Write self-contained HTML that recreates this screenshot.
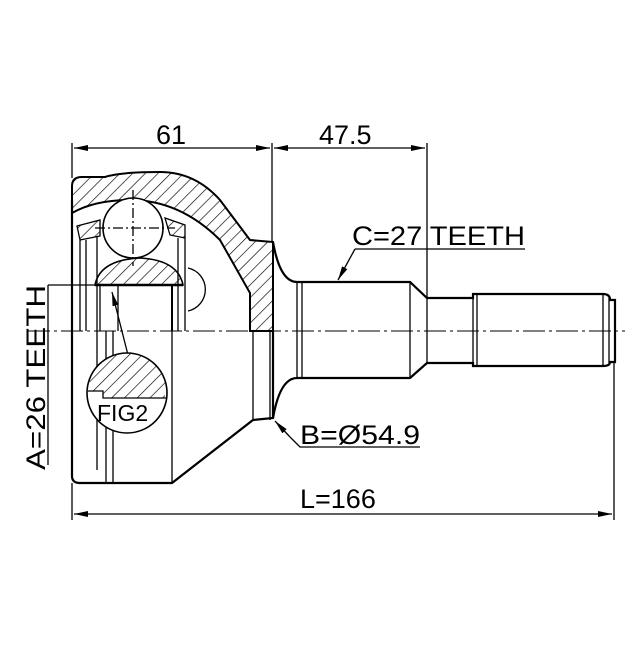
<!DOCTYPE html>
<html><head><style>html,body{margin:0;padding:0;background:#fff}</style></head><body>
<svg width="640" height="640" viewBox="0 0 640 640" xmlns="http://www.w3.org/2000/svg" font-family="Liberation Sans, sans-serif">
<defs>
<pattern id="h" patternUnits="userSpaceOnUse" width="9" height="9" patternTransform="rotate(45)">
<line x1="0" y1="0" x2="0" y2="9" stroke="#000" stroke-width="1.3"/>
</pattern>
<marker id="a" markerWidth="14" markerHeight="6" refX="14" refY="3" orient="auto" markerUnits="userSpaceOnUse">
<path d="M0,0 L14,3 L0,6 z" fill="#000"/></marker>
</defs>
<rect width="640" height="640" fill="#fff"/>
<g stroke="#000" fill="none" stroke-width="1.3">
<line x1="72" y1="143" x2="72" y2="178"/>
<line x1="272" y1="143" x2="272" y2="242"/>
<line x1="427" y1="143" x2="427" y2="298"/>
<line x1="172" y1="148" x2="74" y2="148" marker-end="url(#a)"/>
<line x1="172" y1="148" x2="270" y2="148" marker-end="url(#a)"/>
<line x1="350" y1="148" x2="274" y2="148" marker-end="url(#a)"/>
<line x1="350" y1="148" x2="425" y2="148" marker-end="url(#a)"/>
<line x1="72" y1="483" x2="72" y2="520"/>
<line x1="614" y1="363" x2="614" y2="520"/>
<line x1="300" y1="514" x2="74" y2="514" marker-end="url(#a)"/>
<line x1="300" y1="514" x2="612" y2="514" marker-end="url(#a)"/>
<line x1="28" y1="331" x2="625" y2="331" stroke-width="1" stroke-dasharray="22,4,3,4"/>
<path d="M72,200 L72,186 Q72,177 82,177 L105,177 Q120,172 160,172 Q195,172 220,200 L250,240 L273,242 L273,331 L250,331 L250,293 L220,240 Q180,200 130,200 Q95,200 72,213 Z" fill="url(#h)" stroke-width="2"/>
<path d="M72,200 L72,476 Q72,483 80,483 L172,483 L253,420 L273,418 L273,331" stroke-width="2.2"/>
<line x1="253" y1="420" x2="253" y2="331"/>
<line x1="270" y1="420" x2="270" y2="331"/>
<circle cx="133" cy="228" r="30" fill="#fff" stroke-width="1.6"/>
<line x1="133" y1="190" x2="133" y2="266" stroke-dasharray="10,3,2,3"/>
<line x1="95" y1="228" x2="175" y2="228" stroke-dasharray="10,3,2,3"/>
<path d="M95,285 Q100,260 140,258 Q178,260 183,285 Z" fill="url(#h)" stroke-width="1.6"/>
<path d="M77,226 L100,220 L100,236 L80,240 Z" fill="url(#h)"/>
<path d="M165,218 L185,225 L185,238 L170,235 Z" fill="url(#h)"/>
<line x1="80" y1="240" x2="80" y2="331"/>
<line x1="86" y1="240" x2="86" y2="331"/>
<line x1="97" y1="236" x2="97" y2="331"/>
<line x1="100" y1="285" x2="100" y2="331"/>
<line x1="118" y1="285" x2="118" y2="331"/>
<line x1="172" y1="285" x2="172" y2="331" stroke-width="2"/>
<line x1="178" y1="238" x2="178" y2="331"/>
<line x1="185" y1="238" x2="185" y2="331"/>
<line x1="95" y1="285" x2="183" y2="285" stroke-width="2.4"/>
<path d="M188,268 A22,22 0 0 1 188,311"/>
<line x1="97" y1="331" x2="97" y2="470"/>
<line x1="106" y1="331" x2="106" y2="483"/>
<line x1="113" y1="331" x2="113" y2="483"/>
<line x1="172" y1="331" x2="172" y2="483"/>
<line x1="48" y1="285" x2="48" y2="465"/>
<line x1="48" y1="285" x2="95" y2="285"/>
<line x1="128" y1="355" x2="112" y2="292" marker-end="url(#a)"/>
<circle cx="127" cy="393" r="40" fill="#fff" stroke-width="1.6"/>
<path d="M91,375 A40,40 0 0 1 165,380 L165,398 L103,398 L103,391 L88,391 Z" fill="url(#h)" stroke="none"/>
<path d="M88,391 L103,391 L103,398 L166,398"/>
<path d="M273,242 Q280,282 297,282 L410,282 L427,298 L473,298 L473,294 L603,294 Q610,294 610,300 L615,300 L615,362 L610,362 Q610,366 603,366 L473,366 L473,363 L427,363 L410,378 L297,378 Q280,378 273,418" stroke-width="2.2"/>
<line x1="297" y1="282" x2="297" y2="378"/>
<line x1="302" y1="282" x2="302" y2="378"/>
<line x1="410" y1="282" x2="410" y2="378"/>
<line x1="427" y1="298" x2="427" y2="363"/>
<line x1="473" y1="294" x2="473" y2="366"/>
<line x1="477" y1="294" x2="477" y2="366"/>
<line x1="603" y1="294" x2="603" y2="366"/>
<line x1="609" y1="298" x2="609" y2="364"/>
<polyline points="525,249 355,249"/>
<line x1="355" y1="249" x2="338" y2="280" marker-end="url(#a)"/>
<polyline points="420,447 300,447 290,437"/>
<line x1="290" y1="437" x2="275" y2="421" marker-end="url(#a)"/>
</g>
<g font-size="27" fill="#000">
<text x="156" y="144">61</text>
<text x="319" y="144">47.5</text>
<text x="352" y="245" textLength="173" lengthAdjust="spacingAndGlyphs">C=27 TEETH</text>
<text x="300" y="444" textLength="120" lengthAdjust="spacingAndGlyphs">B=Ø54.9</text>
<text x="300" y="508">L=166</text>
<text x="97" y="421" font-size="23">FIG2</text>
<text transform="translate(45,470) rotate(-90)" textLength="185" lengthAdjust="spacingAndGlyphs">A=26 TEETH</text>
</g>
</svg>
</body></html>
